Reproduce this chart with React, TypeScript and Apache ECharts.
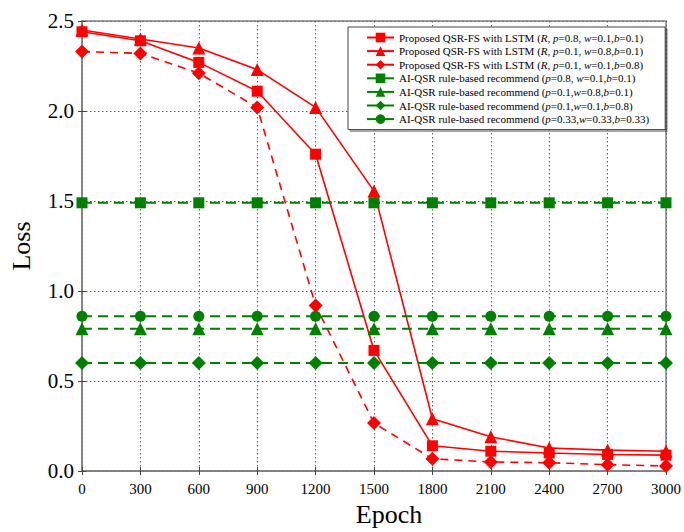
import React, { useEffect, useRef } from "react";
import * as echarts from "echarts";

const epochs = [0, 300, 600, 900, 1200, 1500, 1800, 2100, 2400, 2700, 3000];
const xTicks = ["0", "300", "600", "900", "1200", "1500", "1800", "2100", "2400", "2700", "3000"];

const seriesNames = [
  "Proposed QSR-FS with LSTM (R, p=0.8, w=0.1,b=0.1)",
  "Proposed QSR-FS with LSTM (R, p=0.1, w=0.8,b=0.1)",
  "Proposed QSR-FS with LSTM (R, p=0.1, w=0.1,b=0.8)",
  "AI-QSR rule-based recommend (p=0.8, w=0.1,b=0.1)",
  "AI-QSR rule-based recommend (p=0.1,w=0.8,b=0.1)",
  "AI-QSR rule-based recommend (p=0.1,w=0.1,b=0.8)",
  "AI-QSR rule-based recommend (p=0.33,w=0.33,b=0.33)",
];

const lstmP08 = [2.44, 2.39, 2.27, 2.11, 1.76, 0.67, 0.14, 0.11, 0.1, 0.092, 0.088];
const lstmW08 = [2.45, 2.4, 2.35, 2.23, 2.02, 1.555, 0.29, 0.19, 0.128, 0.116, 0.11];
const lstmB08 = [2.33, 2.32, 2.21, 2.02, 0.92, 0.266, 0.068, 0.05, 0.046, 0.035, 0.028];
const ruleP08 = [1.49, 1.49, 1.49, 1.49, 1.49, 1.49, 1.49, 1.49, 1.49, 1.49, 1.49];
const ruleW08 = [0.79, 0.79, 0.79, 0.79, 0.79, 0.79, 0.79, 0.79, 0.79, 0.79, 0.79];
const ruleB08 = [0.6, 0.6, 0.6, 0.6, 0.6, 0.6, 0.6, 0.6, 0.6, 0.6, 0.6];
const ruleEq = [0.86, 0.86, 0.86, 0.86, 0.86, 0.86, 0.86, 0.86, 0.86, 0.86, 0.86];

const FONT = "'Liberation Serif', 'Times New Roman', serif";
const RED = "#ff0000";
const GREEN = "#008000";

function pairs(vals: number[]) {
  return epochs.map((e, i) => [e, vals[i]]);
}

export default function App() {
  const ref = useRef<HTMLDivElement>(null);
  useEffect(() => {
    if (!ref.current) return;
    const chart = echarts.init(ref.current, null, { renderer: "svg" });
    const mk = (
      name: string,
      vals: number[],
      color: string,
      symbol: string,
      dash: number[] | null,
      size: number,
      width: number
    ) => ({
      name,
      type: "line",
      data: pairs(vals),
      symbol,
      symbolSize: size,
      showAllSymbol: true,
      clip: true,
      itemStyle: { color },
      lineStyle: { color, width, type: dash ? dash : "solid" },
      z: 3,
    });
    const tickStyle = { show: true, inside: true, length: 4, lineStyle: { color: "#444", width: 1 } };
    const gridLine = { show: true, lineStyle: { type: [1.5, 2.5], color: "#666", width: 1 } };
    chart.setOption({
      animation: false,
      backgroundColor: "#ffffff",
      grid: {
        left: 79,
        right: 17,
        top: 21,
        bottom: 57,
        show: true,
        borderColor: "#7f7f7f",
        borderWidth: 1.5,
        backgroundColor: "transparent",
      },
      legend: {
        orient: "vertical",
        left: 348,
        top: 27,
        padding: [5, 16, 5, 18],
        itemGap: 2.6,
        itemWidth: 27,
        itemHeight: 12,
        backgroundColor: "#ffffff",
        borderColor: "#444444",
        borderWidth: 1,
        shadowColor: "rgba(0,0,0,0.35)",
        shadowBlur: 0,
        shadowOffsetX: 2,
        shadowOffsetY: 2,
        lineStyle: { type: "solid" },
        data: seriesNames,
        formatter: (name: string) => name.replace(/([Rpwb])(?=[=,])/g, "{i|$1}"),
        textStyle: {
          fontFamily: FONT,
          fontSize: 11,
          color: "#000",
          rich: {
            i: { fontFamily: FONT, fontSize: 11, fontStyle: "italic", color: "#000" },
          },
        },
      },
      xAxis: [
        {
          type: "value",
          min: 0,
          max: 3000,
          interval: 300,
          name: "Epoch",
          nameLocation: "middle",
          nameGap: 30,
          nameTextStyle: { fontFamily: FONT, fontSize: 26, color: "#000", padding: [0, 0, 0, 30] },
          axisLine: { show: true, lineStyle: { color: "#7f7f7f", width: 1.5 } },
          axisTick: tickStyle,
          axisLabel: {
            fontFamily: FONT,
            fontSize: 15,
            color: "#000",
            margin: 10,
            formatter: (v: number) => xTicks[epochs.indexOf(v)] ?? String(v),
          },
          splitLine: gridLine,
        },
        {
          type: "value",
          position: "top",
          min: 0,
          max: 3000,
          interval: 300,
          axisLine: { show: false },
          axisTick: tickStyle,
          axisLabel: { show: false },
          splitLine: { show: false },
        },
      ],
      yAxis: [
        {
          type: "value",
          min: 0,
          max: 2.5,
          interval: 0.5,
          name: "Loss",
          nameLocation: "middle",
          nameGap: 48,
          nameTextStyle: { fontFamily: FONT, fontSize: 26, color: "#000" },
          axisLine: { show: true, lineStyle: { color: "#7f7f7f", width: 1.5 } },
          axisTick: tickStyle,
          axisLabel: {
            fontFamily: FONT,
            fontSize: 21,
            color: "#000",
            margin: 8,
            formatter: (v: number) => v.toFixed(1),
          },
          splitLine: gridLine,
        },
        {
          type: "value",
          position: "right",
          min: 0,
          max: 2.5,
          interval: 0.5,
          axisLine: { show: false },
          axisTick: tickStyle,
          axisLabel: { show: false },
          splitLine: { show: false },
        },
      ],
      series: [
        mk(seriesNames[0], lstmP08, RED, "rect", null, 11, 1.6),
        mk(seriesNames[1], lstmW08, RED, "triangle", null, 13, 1.6),
        mk(seriesNames[2], lstmB08, RED, "diamond", [8, 6], 14, 1.6),
        mk(seriesNames[3], ruleP08, GREEN, "rect", [10, 6], 11, 2),
        mk(seriesNames[4], ruleW08, GREEN, "triangle", [10, 6], 13, 2),
        mk(seriesNames[5], ruleB08, GREEN, "diamond", [10, 6], 14, 2),
        mk(seriesNames[6], ruleEq, GREEN, "circle", [10, 6], 11, 2),
      ],
    });
    return () => chart.dispose();
  }, []);
  return (
    <div
      ref={ref}
      style={{ position: "fixed", left: 0, top: 0, width: 684, height: 532, overflow: "hidden" }}
    />
  );
}
